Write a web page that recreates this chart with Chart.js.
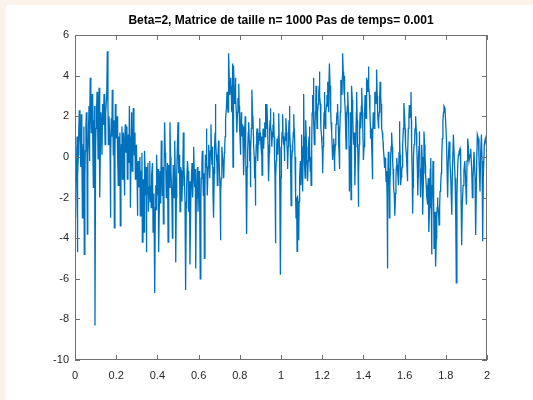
<!DOCTYPE html>
<html>
<head>
<meta charset="utf-8">
<script src="https://cdn.jsdelivr.net/npm/chart.js@4.4.0/dist/chart.umd.min.js"></script>
<style>
  html, body { margin: 0; padding: 0; background: #fcf2ec; width: 533px; height: 400px; overflow: hidden; }
  #frame { position: absolute; left: 6px; top: 5px; width: 527px; height: 395px; background: #ffffff; }
  canvas { display: block; }
</style>
</head>
<body>
<div id="frame"><canvas id="chart" width="527" height="395"></canvas></div>
<script>
// Titre et graduations
const chartTitle = 'Beta=2, Matrice de taille n= 1000 Pas de temps= 0.001';
const xTicks = [0, 0.2, 0.4, 0.6, 0.8, 1, 1.2, 1.4, 1.6, 1.8, 2];
const yTicks = [-10, -8, -6, -4, -2, 0, 2, 4, 6];

// Trajectoire, par morceaux : [temps, valeur]
const trace1 = [
  [0.000,-1.4],[0.002,0.5],[0.003,-3.0],[0.005,-0.5],[0.008,-1.2],[0.010,1.0],[0.011,-4.7],[0.014,-1.0],
  [0.016,0.1],[0.018,1.2],[0.021,2.3],[0.024,1.0],[0.026,0.6],[0.028,-0.5],[0.031,2.1],[0.033,0.5],
  [0.036,-3.0],[0.038,-0.5],[0.040,0.6],[0.043,1.5],[0.045,-4.8],[0.048,-1.0],[0.050,0.3],[0.053,1.5],
  [0.055,2.2],[0.058,0.5],[0.060,-3.8],[0.062,0.0],[0.065,1.1],[0.068,2.5],[0.070,-0.2],[0.072,1.5],
  [0.074,3.9],[0.077,2.0],[0.079,1.2],[0.082,2.6],[0.084,3.1],[0.086,1.0],[0.089,-1.5],[0.091,1.8],
  [0.092,0.6],[0.095,2.5],[0.097,-8.3],[0.100,0.5],[0.102,1.4],[0.105,2.4],[0.107,3.2],[0.110,1.5],
  [0.112,-0.1],[0.115,2.0],[0.117,3.4],[0.119,1.0],[0.121,-2.0],[0.124,1.0],[0.126,2.2],[0.129,1.2],
  [0.131,0.1],[0.134,2.6],[0.136,1.6],[0.139,2.2],[0.141,3.1],[0.144,1.8],[0.146,0.6],[0.148,1.5],
  [0.150,2.2],[0.154,3.0],[0.157,5.2],[0.160,2.5],[0.162,0.6],[0.165,2.0],[0.167,1.4],[0.170,0.5],
  [0.172,-3.0],[0.174,0.0],[0.176,1.9],[0.179,1.0],[0.181,3.3],[0.184,1.5],[0.186,0.1],[0.189,1.8],
  [0.191,-3.5],[0.194,0.0],[0.196,2.6],[0.199,1.5],[0.201,0.9],[0.204,2.0],[0.206,1.6],[0.208,0.0],
  [0.210,-1.4],[0.213,1.0],[0.215,0.1],[0.218,1.2],[0.220,-3.4],[0.223,-0.5],[0.225,0.6],[0.228,1.5],
  [0.230,-1.1],[0.233,0.3],[0.235,1.2],[0.238,-0.5],[0.240,-1.9],[0.242,0.5],[0.244,1.6],[0.247,0.2],
  [0.249,0.6],[0.252,1.5],[0.254,-1.1],[0.257,0.3],[0.259,1.1],[0.262,-0.3],[0.264,2.5],[0.267,1.0],
  [0.269,-2.5],[0.272,0.5],[0.274,2.2],[0.276,1.0],[0.278,-0.7],[0.281,1.0],[0.283,2.4],[0.286,0.8],
  [0.288,0.1],[0.291,1.2],[0.293,-1.1],[0.296,0.2],[0.298,0.6],[0.301,-0.8],[0.303,-2.9],[0.305,-0.8],
  [0.307,-0.2],[0.310,-1.5],[0.312,-1.4],[0.315,0.0],[0.317,-2.9],[0.320,-1.2],[0.322,-0.7],[0.325,0.2],
  [0.327,-4.2],[0.330,-1.5],[0.332,-1.1]
];
const trace2 = [
  [0.335,-3.7],[0.337,-1.0],[0.338,0.3],[0.341,-0.8],[0.343,-1.9],[0.345,-0.5],[0.346,-4.7],[0.349,-2.0],
  [0.351,-1.4],[0.354,-0.3],[0.356,-2.7],[0.360,-1.5],[0.363,-0.2],[0.365,-2.2],[0.367,-1.4],[0.370,-2.5],
  [0.372,-0.9],[0.376,-0.3],[0.379,-3.7],[0.383,-1.8],[0.387,-6.7],[0.390,-2.5],[0.392,-1.4],[0.394,-2.6],
  [0.396,0.1],[0.399,-1.0],[0.401,-1.9],[0.404,-0.6],[0.406,-4.7],[0.410,-2.0],[0.413,-0.7],[0.416,-2.3],
  [0.419,0.8],[0.422,-0.8],[0.424,-1.9],[0.427,-0.5],[0.429,-3.3],[0.432,-1.2],[0.435,1.7],[0.438,0.2],
  [0.440,-0.1],[0.443,-2.0],[0.445,-1.4],[0.449,-0.3],[0.452,-4.2],[0.454,-1.8],[0.456,-0.4],[0.459,-1.5],
  [0.461,1.7],[0.464,0.0],[0.466,-0.7],[0.470,-2.0],[0.473,-4.0],[0.475,-1.5],[0.477,-0.4],[0.481,-2.0],
  [0.484,0.8],[0.487,-1.0],[0.489,-5.2],[0.492,-2.0],[0.494,-0.7],[0.497,0.5],[0.500,1.7],[0.503,-0.8],
  [0.505,0.1],[0.508,-1.0],[0.510,-2.7],[0.513,-0.5],[0.516,-0.7],[0.519,-2.2],[0.521,-1.4],[0.524,-0.2],
  [0.526,1.2],[0.529,-0.5],[0.531,-1.05],[0.534,-2.2],[0.537,-6.55],[0.540,-2.5],[0.542,-1.4],[0.546,-0.2],
  [0.549,-0.7],[0.551,-1.8],[0.553,-2.7],[0.556,-1.2],[0.558,-5.3],[0.562,-2.2],[0.565,-1.05],[0.568,-0.3],
  [0.571,-2.0],[0.574,-1.0],[0.576,0.5],[0.579,-0.8],[0.581,-1.5],[0.584,-0.6],[0.586,-5.5],[0.589,-2.0],
  [0.592,-1.4],[0.595,-0.5],[0.597,-2.7],[0.600,-1.5],[0.602,-0.7],[0.605,-2.0],[0.608,-6.0],[0.611,-2.2],
  [0.613,-1.05],[0.616,-0.3],[0.618,0.3],[0.621,-1.0],[0.623,-1.9],[0.626,-0.8],[0.628,-5.0],[0.631,-1.5],
  [0.633,0.1],[0.636,-0.5],[0.638,1.4],[0.640,0.2],[0.642,-1.9],[0.646,-0.5],[0.649,0.6],[0.652,-0.5],
  [0.654,-1.05],[0.657,0.3],[0.660,1.6],[0.663,0.0],[0.665,-0.4]
];
const trace3 = [
  [0.668,0.5],[0.670,-1.9],[0.672,-0.5],[0.673,-3.0],[0.676,-0.8],[0.678,0.6],[0.680,1.2],[0.681,2.6],
  [0.684,0.8],[0.686,0.1],[0.689,-0.3],[0.691,-1.4],[0.694,0.0],[0.697,0.8],[0.699,0.2],[0.701,-0.7],
  [0.704,-1.5],[0.706,-4.1],[0.708,-1.8],[0.710,-1.05],[0.713,0.5],[0.715,0.1],[0.719,-0.3],[0.722,-1.05],
  [0.725,0.2],[0.727,0.6],[0.729,1.0],[0.731,1.9],[0.735,2.4],[0.738,3.2],[0.741,2.5],[0.743,2.2],
  [0.745,3.5],[0.746,5.1],[0.749,3.8],[0.751,3.05],[0.754,3.5],[0.756,3.9],[0.759,3.0],[0.761,2.2],
  [0.763,3.5],[0.764,4.6],[0.766,2.5],[0.767,-0.5],[0.769,2.0],[0.770,4.5],[0.773,3.3],[0.775,2.6],
  [0.777,3.4],[0.778,3.9],[0.781,3.0],[0.783,2.2],[0.785,1.8],[0.786,1.2],[0.789,2.2],[0.791,2.9],
  [0.793,2.5],[0.795,3.6],[0.797,2.5],[0.799,1.4],[0.801,1.0],[0.803,0.1],[0.805,1.2],[0.807,2.2],
  [0.809,1.0],[0.811,1.6],[0.814,1.2],[0.816,0.6],[0.818,1.5],[0.819,-0.9],[0.822,0.5],[0.824,0.9],
  [0.826,2.0],[0.827,1.4],[0.830,0.5],[0.833,-3.8],[0.836,-0.5],[0.838,0.3],[0.841,1.2],[0.843,1.7],
  [0.846,0.8],[0.848,-0.2],[0.850,0.5],[0.851,-1.5],[0.854,0.3],[0.856,1.4],[0.858,2.2],[0.859,3.3],
  [0.862,2.0],[0.864,1.9],[0.866,1.0],[0.867,0.6],[0.870,0.0],[0.872,-1.05],[0.874,0.0],[0.875,-2.4],
  [0.878,-0.5],[0.880,0.6],[0.882,1.2],[0.884,1.4],[0.886,0.5],[0.888,-0.2],[0.890,1.0],[0.892,0.6],
  [0.894,1.2],[0.896,1.9],[0.898,0.8],[0.900,1.2],[0.903,0.5],[0.905,0.1],[0.907,1.0],[0.908,-0.9],
  [0.911,0.5],[0.913,1.4],[0.915,0.5],[0.916,0.4],[0.919,1.2],[0.921,1.7],[0.923,1.0],[0.924,2.6],
  [0.927,1.5],[0.929,1.4],[0.931,1.8],[0.932,2.6],[0.935,1.5],[0.937,0.6],[0.939,0.0],[0.940,-1.2],
  [0.943,0.2],[0.945,1.4],[0.947,1.8],[0.948,2.4],[0.951,1.5],[0.953,1.2],[0.955,0.5],[0.956,0.6],
  [0.959,1.2],[0.961,1.6],[0.963,1.0],[0.964,2.2],[0.967,1.0],[0.969,-0.2],[0.971,-1.0],[0.973,-4.25],
  [0.975,-1.0],[0.977,-0.2],[0.979,0.5],[0.981,0.9],[0.983,0.3],[0.985,0.1],[0.987,1.0],[0.989,2.15],
  [0.992,0.5],[0.994,-1.05],[0.995,-2.0],[0.997,-5.8],[1.000,-1.0],[1.002,0.3]
];
const trace4 = [
  [1.005,1.2],[1.008,2.1],[1.010,1.0],[1.013,0.6],[1.015,0.8],[1.016,-0.2],[1.019,0.5],[1.021,1.2],
  [1.023,0.8],[1.024,1.9],[1.027,1.2],[1.029,0.6],[1.031,0.2],[1.032,-0.6],[1.035,0.5],[1.037,1.2],
  [1.039,1.8],[1.041,2.5],[1.043,1.2],[1.045,0.6],[1.047,-0.5],[1.049,-2.4],[1.051,-1.0],[1.053,-0.2],
  [1.055,0.3],[1.057,0.6],[1.060,1.2],[1.062,2.1],[1.064,1.0],[1.065,1.4],[1.068,0.0],[1.070,-1.05],
  [1.072,-2.0],[1.073,-3.0],[1.076,-2.0],[1.078,-4.65],[1.080,-2.5],[1.081,-1.9],[1.084,-2.5],[1.086,-4.1],
  [1.088,-2.2],[1.089,-1.4],[1.092,-1.0],[1.094,-0.2],[1.096,-1.0],[1.097,-1.4],[1.099,-0.5],[1.100,1.1],
  [1.103,-0.5],[1.105,-1.7],[1.108,0.5],[1.110,3.1],[1.112,1.0],[1.113,0.6],[1.115,-0.3],[1.117,-1.05],
  [1.119,0.3],[1.121,1.8],[1.124,0.5],[1.126,-0.2],[1.128,-0.5],[1.129,-1.2],[1.132,-0.2],[1.134,0.6],
  [1.136,1.0],[1.138,1.5],[1.140,0.5],[1.142,-0.7],[1.144,0.0],[1.146,-1.4],[1.149,0.5],[1.151,2.15],
  [1.153,2.5],[1.154,3.05],[1.156,2.5],[1.157,3.9],[1.160,1.8],[1.162,0.6],[1.165,1.5],[1.167,2.2],
  [1.169,2.8],[1.170,3.5],[1.173,2.2],[1.175,1.4],[1.177,1.8],[1.178,2.2],[1.181,2.6],[1.183,3.05],
  [1.185,3.5],[1.186,4.2],[1.189,3.0],[1.191,2.6],[1.193,2.0],[1.194,1.4],[1.197,1.0],[1.199,0.6],
  [1.201,0.2],[1.202,-0.8],[1.205,0.5],[1.207,1.4],[1.209,2.2],[1.210,3.2],[1.213,2.0],[1.215,1.4],
  [1.217,1.8],[1.218,2.2],[1.221,2.6],[1.223,3.05],[1.225,2.5],[1.227,3.7],[1.229,2.8],[1.231,2.2],
  [1.233,3.2],[1.235,4.6],[1.238,3.5],[1.240,3.05],[1.242,2.4],[1.243,1.7],[1.246,1.2],[1.248,0.6],
  [1.250,0.3],[1.251,-0.15],[1.254,0.5],[1.256,0.9],[1.258,0.3],[1.259,-0.7],[1.262,0.0],[1.264,0.6],
  [1.266,1.2],[1.267,1.6],[1.270,1.9],[1.272,2.2],[1.274,2.0],[1.275,2.6],[1.278,1.5],[1.280,0.6],
  [1.282,0.2],[1.283,-0.6],[1.286,1.0],[1.288,2.2],[1.290,3.0],[1.291,3.8],[1.294,3.3],[1.296,3.05],
  [1.298,4.0],[1.299,5.1],[1.302,4.2],[1.304,3.9],[1.306,3.2],[1.307,4.0],[1.310,3.0],[1.312,2.2],
  [1.314,1.2],[1.316,0.4],[1.318,1.2],[1.320,1.9],[1.322,2.5],[1.324,3.2],[1.327,2.2],[1.329,1.4],
  [1.331,0.0],[1.332,-1.7],[1.335,0.5],[1.337,2.2]
];
const trace5 = [
  [1.339,0.5],[1.340,-2.1],[1.342,1.0],[1.343,3.5],[1.346,2.8],[1.348,2.2],[1.350,1.2],[1.351,0.6],
  [1.354,0.8],[1.356,1.2],[1.358,0.0],[1.359,-1.4],[1.362,0.5],[1.364,1.4],[1.366,2.2],[1.367,3.2],
  [1.370,1.8],[1.372,0.6],[1.374,-0.5],[1.375,-2.45],[1.378,-0.8],[1.380,0.6],[1.382,1.5],[1.384,2.2],
  [1.386,1.8],[1.388,1.4],[1.390,2.5],[1.392,3.4],[1.395,2.2],[1.397,1.4],[1.399,0.6],[1.400,-0.15],
  [1.403,0.5],[1.405,1.4],[1.407,2.2],[1.408,3.05],[1.411,2.5],[1.413,1.9],[1.415,2.8],[1.416,3.9],
  [1.419,3.5],[1.421,3.2],[1.423,3.8],[1.424,4.45],[1.427,3.5],[1.429,3.05],[1.431,2.6],[1.432,2.2],
  [1.434,1.5],[1.435,0.9],[1.438,1.4],[1.440,0.6],[1.442,0.0],[1.443,-1.1],[1.446,0.8],[1.448,2.2],
  [1.451,1.8],[1.453,1.4],[1.455,2.2],[1.456,3.2],[1.459,2.8],[1.461,2.6],[1.463,3.3],[1.464,4.3],
  [1.467,3.0],[1.469,2.2],[1.471,1.8],[1.473,1.4],[1.475,1.8],[1.477,2.2],[1.479,2.9],[1.481,3.7],
  [1.484,3.0],[1.486,2.6],[1.488,2.0],[1.489,1.4],[1.492,1.2],[1.494,0.9],[1.496,0.7],[1.497,0.4],
  [1.500,0.0],[1.502,-0.55],[1.504,-0.2],[1.505,-0.05],[1.508,-0.6],[1.510,-1.2],[1.512,-0.9],[1.513,-0.7],
  [1.515,-2.0],[1.516,-5.5],[1.519,-1.5],[1.521,0.25],[1.524,-1.2],[1.526,-3.0],[1.528,-2.0],[1.529,-1.4],
  [1.531,-0.6],[1.532,-0.05],[1.535,0.5],[1.537,1.2],[1.540,0.5],[1.542,-0.2],[1.544,-0.6],[1.545,-1.05],
  [1.548,-1.5],[1.550,-1.9],[1.552,-2.2],[1.553,-2.9],[1.556,-1.8],[1.558,-1.05],[1.560,-0.5],[1.562,-0.05],
  [1.564,-0.4],[1.566,-0.7],[1.568,-1.0],[1.570,-1.4],[1.573,0.2],[1.575,1.75],[1.577,0.8],[1.578,0.1],
  [1.580,-0.6],[1.581,-1.4],[1.584,-1.0],[1.586,-0.7],[1.588,-0.5],[1.589,-0.2],[1.592,0.6],[1.594,1.4],
  [1.596,2.0],[1.597,2.65],[1.600,2.0],[1.602,1.4],[1.604,1.0],[1.605,0.6],[1.608,0.2],[1.610,-0.2],
  [1.612,-0.7],[1.613,-1.2],[1.616,0.0],[1.618,1.4],[1.621,2.0],[1.623,2.55],[1.625,2.2],[1.626,1.9],
  [1.629,2.5],[1.631,3.2],[1.633,1.8],[1.634,0.6],[1.637,-1.0],[1.639,-2.8],[1.641,-1.5],[1.642,-0.7],
  [1.644,0.0],[1.646,0.6],[1.649,1.0],[1.651,1.4],[1.653,1.7],[1.654,2.0],[1.657,1.2],[1.659,0.6],
  [1.662,-0.6],[1.664,-1.9],[1.666,-1.0],[1.667,-0.2],[1.670,0.5],[1.672,1.25]
];
const trace6 = [
  [1.675,-0.7],[1.677,-1.4],[1.678,-2.0],[1.681,-0.6],[1.683,0.6],[1.685,0.0],[1.686,-0.7],[1.688,-1.8],
  [1.689,-2.85],[1.692,-0.8],[1.694,1.25],[1.697,0.6],[1.699,0.1],[1.701,-0.4],[1.702,-0.9],[1.705,-1.4],
  [1.707,-1.9],[1.709,-2.1],[1.710,-2.35],[1.713,-1.7],[1.715,-1.05],[1.717,-2.2],[1.718,-3.7],[1.721,-2.5],
  [1.723,-1.4],[1.725,-0.6],[1.727,-0.05],[1.729,-2.0],[1.731,-4.8],[1.733,-3.0],[1.735,-1.4],[1.737,-0.8],
  [1.738,-0.2],[1.741,-2.2],[1.743,-4.5],[1.746,-3.5],[1.748,-2.7],[1.750,-4.0],[1.751,-5.4],[1.754,-4.0],
  [1.756,-3.0],[1.758,-2.5],[1.759,-2.0],[1.762,-2.3],[1.764,-2.7],[1.766,-3.0],[1.767,-3.35],[1.770,-2.5],
  [1.772,-1.7],[1.775,-1.4],[1.778,-0.8],[1.780,-0.2],[1.783,0.9],[1.786,1.75],[1.789,2.2],[1.791,2.5],
  [1.796,2.4],[1.799,1.75],[1.803,0.9],[1.807,-1.05],[1.809,-2.0],[1.812,-0.2],[1.816,0.75],[1.820,-0.2],
  [1.824,-1.05],[1.829,-2.85],[1.832,-0.7],[1.837,1.1],[1.840,0.25],[1.845,-1.05],[1.848,-2.7],[1.851,-6.2],
  [1.854,-1.9],[1.858,-0.4],[1.861,0.1],[1.864,0.25],[1.869,0.4],[1.872,-0.2],[1.877,-4.35],[1.880,-2.35],
  [1.884,-1.4],[1.888,-0.7],[1.892,-0.2],[1.896,-1.05],[1.900,-2.35],[1.903,-0.2],[1.906,0.9],[1.909,0.6],
  [1.913,-0.2],[1.918,0.1],[1.921,0.4],[1.926,-0.7],[1.929,-2.0],[1.932,-1.05],[1.937,0.25],[1.942,-1.05],
  [1.945,-3.85],[1.950,-0.2],[1.953,1.1],[1.958,0.9],[1.961,-0.05],[1.966,-1.7],[1.969,0.1],[1.973,1.1],
  [1.976,-0.2],[1.979,-4.15],[1.982,-1.05],[1.987,0.6],[1.992,0.9],[1.997,0.6],[2.000,0.75]
];

const lineColor = '#0072bd';
const axisColor = '#707070';
const textColor = '#262626';
const fontFamily = '"Liberation Sans", Arial, Helvetica, sans-serif';

// Axes façon MATLAB : cadre, graduations intérieures, titre
const matlabAxes = {
    id: 'matlabAxes',
    afterDraw(chart) {
        const ctx = chart.ctx;
        const a = chart.chartArea;
        const xs = chart.scales.x;
        const ys = chart.scales.y;
        const tick = 5;
        ctx.save();
        ctx.strokeStyle = axisColor;
        ctx.lineWidth = 1;
        ctx.beginPath();
        xTicks.forEach(v => {
            const px = Math.round(xs.getPixelForValue(v)) + 0.5;
            ctx.moveTo(px, a.bottom);
            ctx.lineTo(px, a.bottom - tick);
            ctx.moveTo(px, a.top);
            ctx.lineTo(px, a.top + tick);
        });
        yTicks.forEach(v => {
            const py = Math.round(ys.getPixelForValue(v)) + 0.5;
            ctx.moveTo(a.left, py);
            ctx.lineTo(a.left + tick, py);
            ctx.moveTo(a.right, py);
            ctx.lineTo(a.right - tick, py);
        });
        ctx.stroke();
        ctx.strokeRect(Math.round(a.left) + 0.5, Math.round(a.top) + 0.5,
            Math.round(a.width) - 1, Math.round(a.height) - 1);

        ctx.fillStyle = '#000000';
        ctx.font = 'bold 12px ' + fontFamily;
        ctx.textAlign = 'center';
        ctx.textBaseline = 'alphabetic';
        ctx.fillText(chartTitle, (a.left + a.right) / 2, a.top - 11);
        ctx.restore();
    }
};

const points = [].concat(trace1, trace2, trace3, trace4, trace5, trace6)
    .map(p => ({ x: p[0], y: p[1] }));

new Chart(document.getElementById('chart'), {
    type: 'line',
    data: {
        datasets: [{
            data: points,
            borderColor: lineColor,
            borderWidth: 1.3,
            pointRadius: 0,
            tension: 0,
            fill: false
        }]
    },
    options: {
        responsive: false,
        animation: false,
        layout: { padding: { left: 39, right: 46, top: 30, bottom: 0 } },
        plugins: {
            legend: { display: false },
            tooltip: { enabled: false },
            title: { display: false }
        },
        scales: {
            x: {
                type: 'linear',
                min: 0,
                max: 2,
                border: { display: false },
                grid: { display: false, drawTicks: false },
                afterBuildTicks(scale) {
                    scale.ticks = xTicks.map(v => ({ value: v }));
                },
                afterFit(scale) { scale.height = 40; },
                ticks: {
                    autoSkip: false,
                    maxRotation: 0,
                    padding: 9,
                    color: textColor,
                    font: { family: fontFamily, size: 11 },
                    callback: v => String(Math.round(v * 10) / 10)
                }
            },
            y: {
                type: 'linear',
                min: -10,
                max: 6,
                border: { display: false },
                grid: { display: false, drawTicks: false },
                afterBuildTicks(scale) {
                    scale.ticks = yTicks.map(v => ({ value: v }));
                },
                afterFit(scale) { scale.width = 30; },
                ticks: {
                    autoSkip: false,
                    padding: 6,
                    color: textColor,
                    font: { family: fontFamily, size: 11 }
                }
            }
        }
    },
    plugins: [matlabAxes]
});
</script>
</body>
</html>
